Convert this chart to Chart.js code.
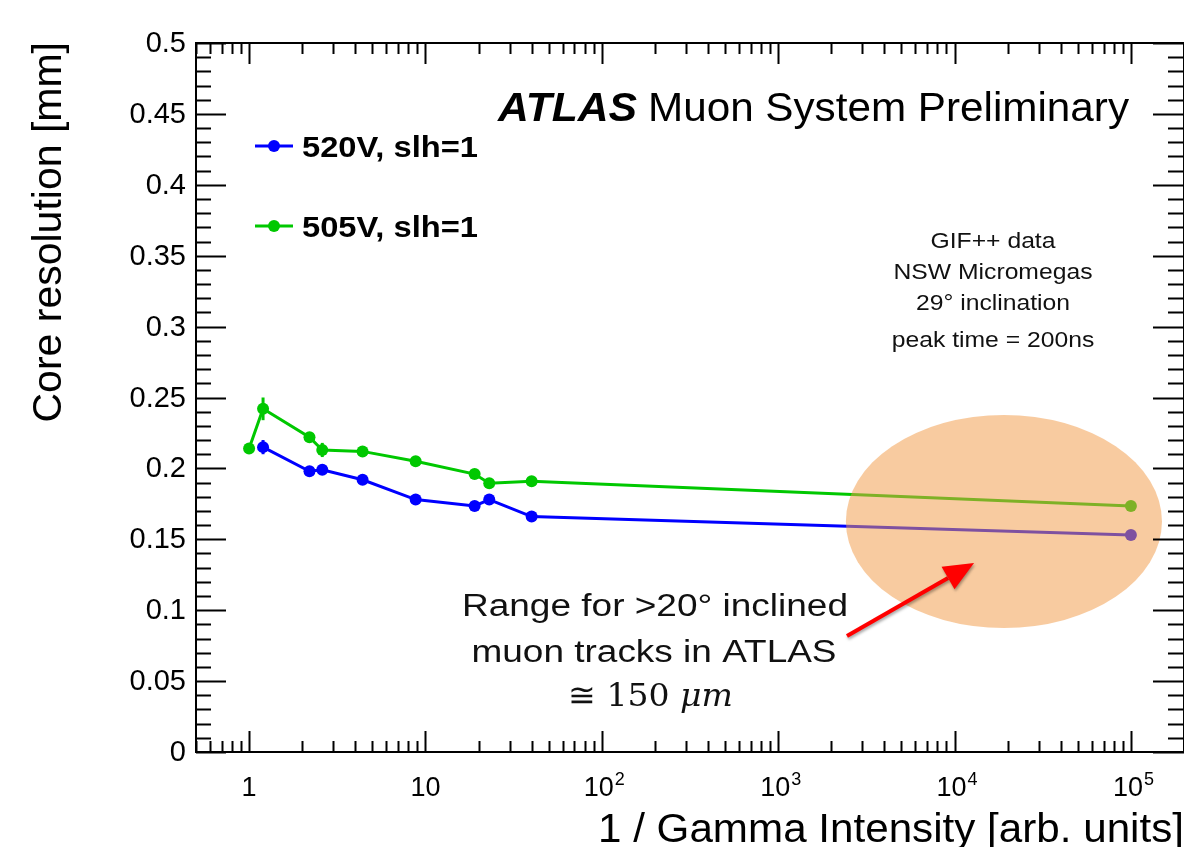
<!DOCTYPE html>
<html>
<head>
<meta charset="utf-8">
<script src="https://cdn.jsdelivr.net/npm/chart.js@4.4.1/dist/chart.umd.min.js"></script>
<style>
  html, body { margin: 0; padding: 0; background: #ffffff; }
  #wrap { width: 1184px; height: 847px; }
</style>
</head>
<body>
<div id="wrap"><canvas id="c" width="1184" height="847"></canvas></div>
<script>
// ---- data ----
const intensity520 = [1.2, 2.2, 2.6, 4.4, 8.8, 19, 23, 40, 1e5];
const resolution520 = [0.215, 0.198, 0.199, 0.192, 0.178, 0.1735, 0.178, 0.166, 0.153];
const error520 = [0.005, 0.003, 0.003, 0.002, 0.002, 0.002, 0.002, 0.002, 0.002];

const intensity505 = [1, 1.2, 2.2, 2.6, 4.4, 8.8, 19, 23, 40, 1e5];
const resolution505 = [0.214, 0.242, 0.222, 0.213, 0.212, 0.205, 0.196, 0.1895, 0.191, 0.1735];
const error505 = [0.003, 0.008, 0.003, 0.005, 0.002, 0.002, 0.002, 0.002, 0.002, 0.002];

const seriesLabels = ["520V, slh=1", "505V, slh=1"];
const yMajorTicks = [0, 0.05, 0.1, 0.15, 0.2, 0.25, 0.3, 0.35, 0.4, 0.45, 0.5];
const yTickLabels = ["0", "0.05", "0.1", "0.15", "0.2", "0.25", "0.3", "0.35", "0.4", "0.45", "0.5"];
const xMajorTicks = [1, 10, 100, 1000, 10000, 100000];
const xTickBase = ["1", "10", "10", "10", "10", "10"];
const xTickExp = ["", "", "2", "3", "4", "5"];

const infoLines = ["GIF++ data", "NSW Micromegas", "29\u00B0 inclination", "peak time = 200ns"];
const rangeLines = ["Range for >20\u00B0 inclined", "muon tracks in ATLAS"];

// highlighted region (data coordinates) and arrow (data coordinates)
const regionX = [2420, 150000];
const regionY = [0.0874, 0.2377];
const arrowFrom = [2455, 0.0818];
const arrowTo = [12900, 0.1333];

const BLUE = "#0000ff";
const GREEN = "#00c800";
const SANS = '"Liberation Sans", Arial, Helvetica, sans-serif';

function toPoints(xs, ys) { return xs.map((x, i) => ({ x: x, y: ys[i] })); }

function fitText(ctx, text, x, y, size, width, align, weight) {
  ctx.save();
  ctx.font = (weight || "") + " " + size + "px " + SANS;
  const w = ctx.measureText(text).width;
  const sx = width / w;
  ctx.translate(x, y);
  ctx.scale(sx, 1);
  ctx.textAlign = align || "left";
  ctx.textBaseline = "alphabetic";
  ctx.fillText(text, 0, 0);
  ctx.restore();
}

const rootPlugin = {
  id: "rootStyle",
  afterDatasetsDraw(chart) {
    const ctx = chart.ctx;
    const xs = chart.scales.x, ys = chart.scales.y;
    const a = chart.chartArea;

    // error bars
    const errs = [error520, error505];
    chart.data.datasets.forEach((ds, di) => {
      ctx.save();
      ctx.strokeStyle = ds.borderColor;
      ctx.lineWidth = 3;
      ds.data.forEach((p, i) => {
        const px = xs.getPixelForValue(p.x);
        ctx.beginPath();
        ctx.moveTo(px, ys.getPixelForValue(p.y - errs[di][i]));
        ctx.lineTo(px, ys.getPixelForValue(p.y + errs[di][i]));
        ctx.stroke();
      });
      ctx.restore();
    });

    // translucent ellipse
    const ex0 = xs.getPixelForValue(regionX[0]), ex1 = xs.getPixelForValue(regionX[1]);
    const ey0 = ys.getPixelForValue(regionY[1]), ey1 = ys.getPixelForValue(regionY[0]);
    ctx.save();
    ctx.fillStyle = "rgba(242,156,72,0.52)";
    ctx.beginPath();
    ctx.ellipse((ex0 + ex1) / 2, (ey0 + ey1) / 2, (ex1 - ex0) / 2, (ey1 - ey0) / 2, 0, 0, Math.PI * 2);
    ctx.fill();
    ctx.restore();

    // frame
    ctx.save();
    ctx.strokeStyle = "#000";
    ctx.lineWidth = 2;
    ctx.strokeRect(a.left, a.top, a.right - a.left, a.bottom - a.top);

    // y ticks (left & right)
    for (let k = 0; k <= 50; k++) {
      const v = k / 100;
      const py = Math.round(ys.getPixelForValue(v)) + 0.5;
      const major = (k % 5 === 0);
      const lenL = major ? 30 : 15, lenR = major ? 31 : 16;
      ctx.beginPath();
      ctx.moveTo(a.left, py); ctx.lineTo(a.left + lenL, py);
      ctx.moveTo(a.right, py); ctx.lineTo(a.right - lenR, py);
      ctx.stroke();
    }
    // x ticks (top & bottom), log
    for (let d = -1; d <= 5; d++) {
      for (let m = 1; m <= 9; m++) {
        const v = m * Math.pow(10, d);
        if (v < xs.min - 1e-9 || v > xs.max + 1e-9) continue;
        const px = Math.round(xs.getPixelForValue(v)) + 0.5;
        const major = (m === 1);
        const len = major ? 21 : 11;
        ctx.beginPath();
        ctx.moveTo(px, a.bottom); ctx.lineTo(px, a.bottom - len);
        ctx.moveTo(px, a.top); ctx.lineTo(px, a.top + len);
        ctx.stroke();
      }
    }
    ctx.restore();

    // y tick labels
    ctx.save();
    ctx.fillStyle = "#000";
    ctx.font = "29px " + SANS;
    ctx.textAlign = "right";
    ctx.textBaseline = "middle";
    yMajorTicks.forEach((v, i) => {
      ctx.fillText(yTickLabels[i], 186, ys.getPixelForValue(v) + 1);
    });
    // x tick labels
    ctx.textBaseline = "alphabetic";
    xMajorTicks.forEach((v, i) => {
      const px = xs.getPixelForValue(v);
      ctx.font = "27px " + SANS;
      const bw = ctx.measureText(xTickBase[i]).width;
      let ew = 0;
      if (xTickExp[i]) { ctx.font = "18px " + SANS; ew = ctx.measureText(xTickExp[i]).width; }
      const left = px - (bw + ew) / 2 + (xTickExp[i] ? 2 : 0);
      ctx.font = "27px " + SANS;
      ctx.textAlign = "left";
      ctx.fillText(xTickBase[i], left, 796);
      if (xTickExp[i]) {
        ctx.font = "18px " + SANS;
        ctx.fillText(xTickExp[i], left + bw + 1, 785);
      }
    });
    ctx.restore();

    // axis titles
    ctx.save();
    ctx.fillStyle = "#000";
    fitText(ctx, "1 / Gamma Intensity [arb. units]", 1184, 842, 41, 586, "right");
    ctx.translate(61, 42);
    ctx.rotate(-Math.PI / 2);
    ctx.font = "41px " + SANS;
    ctx.textAlign = "right";
    ctx.fillText("Core resolution [mm]", 0, 0);
    ctx.restore();

    // title
    ctx.save();
    ctx.fillStyle = "#000";
    fitText(ctx, "ATLAS", 498, 121, 40, 139, "left", "italic bold");
    fitText(ctx, "Muon System Preliminary", 648, 121, 40, 481, "left");
    ctx.restore();

    // legend
    const legCols = [BLUE, GREEN];
    const legY = [146, 226];
    ctx.save();
    legCols.forEach((c, i) => {
      ctx.strokeStyle = c; ctx.fillStyle = c; ctx.lineWidth = 3;
      ctx.beginPath(); ctx.moveTo(255, legY[i]); ctx.lineTo(293, legY[i]); ctx.stroke();
      ctx.beginPath(); ctx.arc(274, legY[i], 6, 0, Math.PI * 2); ctx.fill();
      ctx.fillStyle = "#000";
      fitText(ctx, seriesLabels[i], 302, legY[i] + 11, 30, 176, "left", "bold");
    });
    ctx.restore();

    // info text
    ctx.save();
    ctx.fillStyle = "#111";
    ctx.font = "22px " + SANS;
    const infoScale = 199 / ctx.measureText(infoLines[1]).width;
    const infoY = [248, 279, 310, 347];
    infoLines.forEach((t, i) => {
      ctx.save();
      ctx.translate(993, infoY[i]);
      ctx.scale(infoScale, 1);
      ctx.textAlign = "center";
      ctx.fillText(t, 0, 0);
      ctx.restore();
    });
    ctx.restore();

    // range text
    ctx.save();
    ctx.fillStyle = "#111";
    fitText(ctx, rangeLines[0], 655, 616, 31, 386, "center");
    fitText(ctx, rangeLines[1], 654, 662, 31, 365, "center");
    ctx.font = '32px "DejaVu Serif", "Liberation Serif", serif';
    ctx.textAlign = "left";
    const p1 = "\u2245 150 ";
    const w1 = ctx.measureText(p1).width;
    ctx.font = 'italic 32px "DejaVu Serif", "Liberation Serif", serif';
    const w2 = ctx.measureText("\u03BCm").width;
    const sx = 165 / (w1 + w2);
    ctx.translate(568, 706);
    ctx.scale(sx, 1);
    ctx.font = '32px "DejaVu Serif", "Liberation Serif", serif';
    ctx.fillText(p1, 0, 0);
    ctx.font = 'italic 32px "DejaVu Serif", "Liberation Serif", serif';
    ctx.fillText("\u03BCm", w1, 0);
    ctx.restore();

    // arrow
    const ax0 = xs.getPixelForValue(arrowFrom[0]), ay0 = ys.getPixelForValue(arrowFrom[1]);
    const ax1 = xs.getPixelForValue(arrowTo[0]), ay1 = ys.getPixelForValue(arrowTo[1]);
    const ang = Math.atan2(ay1 - ay0, ax1 - ax0);
    const headL = 30, headW = 13;
    const bx = ax1 - headL * Math.cos(ang), by = ay1 - headL * Math.sin(ang);
    ctx.save();
    ctx.shadowColor = "rgba(0,0,0,0.35)";
    ctx.shadowBlur = 3;
    ctx.shadowOffsetX = 1; ctx.shadowOffsetY = 2;
    ctx.strokeStyle = "#ff0000";
    ctx.fillStyle = "#ff0000";
    ctx.lineWidth = 4;
    ctx.beginPath(); ctx.moveTo(ax0, ay0); ctx.lineTo(bx, by); ctx.stroke();
    ctx.beginPath();
    ctx.moveTo(ax1, ay1);
    ctx.lineTo(bx + headW * Math.sin(ang), by - headW * Math.cos(ang));
    ctx.lineTo(bx - headW * Math.sin(ang), by + headW * Math.cos(ang));
    ctx.closePath();
    ctx.fill();
    ctx.restore();
  }
};

new Chart(document.getElementById("c"), {
  type: "line",
  data: {
    datasets: [
      {
        label: seriesLabels[0],
        data: toPoints(intensity520, resolution520),
        borderColor: BLUE, backgroundColor: BLUE,
        borderWidth: 3, pointRadius: 6, pointHoverRadius: 6,
        pointBorderWidth: 0, tension: 0, fill: false
      },
      {
        label: seriesLabels[1],
        data: toPoints(intensity505, resolution505),
        borderColor: GREEN, backgroundColor: GREEN,
        borderWidth: 3, pointRadius: 6, pointHoverRadius: 6,
        pointBorderWidth: 0, tension: 0, fill: false
      }
    ]
  },
  options: {
    responsive: false,
    animation: false,
    layout: { autoPadding: false, padding: { left: 196, top: 43, right: 0, bottom: 95 } },
    plugins: { legend: { display: false }, tooltip: { enabled: false } },
    scales: {
      x: { type: "logarithmic", min: 0.5, max: 2e5, display: false },
      y: { type: "linear", min: 0, max: 0.5, display: false }
    }
  },
  plugins: [rootPlugin]
});
</script>
</body>
</html>
